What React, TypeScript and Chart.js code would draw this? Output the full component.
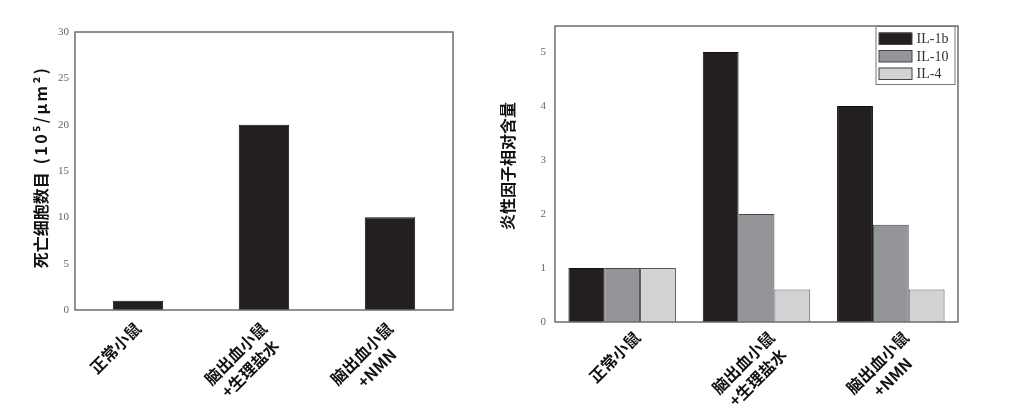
import React, { useEffect, useRef } from "react";
import { Chart, registerables } from "chart.js";

Chart.register(...registerables);

const leftCategories: string[][] = [["正常小鼠"], ["脑出血小鼠", "+生理盐水 "], ["脑出血小鼠", "+NMN　"]];
const deadCells: number[] = [1, 20, 10];
const leftTicks: number[] = [0, 5, 10, 15, 20, 25, 30];

const rightCategories: string[][] = [["正常小鼠"], ["脑出血小鼠", "+生理盐水 "], ["脑出血小鼠", "+NMN　"]];
const il1b: number[] = [1, 5, 4];
const il10: number[] = [1, 2, 1.8];
const il4: number[] = [1, 0.6, 0.6];
const rightTicks: number[] = [0, 1, 2, 3, 4, 5];

const CJK = "'Noto Sans CJK SC', 'Noto Sans', sans-serif";
const SERIF = "'Liberation Serif', 'DejaVu Serif', serif";

const frame = {
  id: "frame",
  afterDraw(chart: any) {
    const { ctx, chartArea } = chart;
    ctx.save();
    ctx.strokeStyle = "#6d6d6d";
    ctx.lineWidth = 1.5;
    ctx.strokeRect(chartArea.left, chartArea.top, chartArea.right - chartArea.left, chartArea.bottom - chartArea.top);
    ctx.restore();
  },
};

// vertical axis title drawn in parts (so the Latin part can be letter-spaced)
const yTitle = {
  id: "yTitle",
  afterDraw(chart: any, _args: any, opts: any) {
    const { ctx, chartArea } = chart;
    const parts: { text: string; size: number; spacing: number; gap?: number }[] = opts.parts || [];
    ctx.save();
    ctx.fillStyle = "#111";
    ctx.textBaseline = "middle";
    ctx.textAlign = "left";
    let total = 0;
    const widths: number[] = [];
    parts.forEach((p) => {
      ctx.font = `bold ${p.size}px ${CJK}`;
      (ctx as any).letterSpacing = `${p.spacing}px`;
      const w = ctx.measureText(p.text).width;
      widths.push(w);
      total += w + (p.gap || 0);
    });
    const cy = (chartArea.top + chartArea.bottom) / 2 + (opts.dy || 0);
    ctx.translate(opts.x, cy);
    ctx.rotate(-Math.PI / 2);
    let x = -total / 2;
    parts.forEach((p, i) => {
      ctx.font = `bold ${p.size}px ${CJK}`;
      (ctx as any).letterSpacing = `${p.spacing}px`;
      ctx.fillText(p.text, x, 0);
      x += widths[i] + (p.gap || 0);
    });
    ctx.restore();
  },
};

const boxLegend = {
  id: "boxLegend",
  afterDraw(chart: any) {
    const { ctx, chartArea } = chart;
    const ds = chart.data.datasets;
    const w = 79;
    const x0 = chartArea.right - w - 3.5;
    const y0 = chartArea.top;
    const rowH = 17.5;
    const h = 58;
    ctx.save();
    ctx.fillStyle = "#ffffff";
    ctx.fillRect(x0, y0, w, h);
    ctx.strokeStyle = "#777";
    ctx.lineWidth = 1;
    ctx.strokeRect(x0 + 0.5, y0 + 0.5, w, h);
    ds.forEach((d: any, i: number) => {
      const cy = y0 + 12.5 + i * rowH;
      ctx.fillStyle = d.backgroundColor;
      ctx.fillRect(x0 + 3.5, cy - 6, 33, 12);
      ctx.strokeStyle = "#444";
      ctx.strokeRect(x0 + 3.5, cy - 5.5, 33, 11.5);
      ctx.fillStyle = "#333";
      ctx.font = `14px ${SERIF}`;
      ctx.textBaseline = "middle";
      ctx.textAlign = "left";
      ctx.fillText(d.label, x0 + 41, cy + 1);
    });
    ctx.restore();
  },
};

function useChart(ref: React.RefObject<HTMLCanvasElement | null>, makeConfig: () => any) {
  useEffect(() => {
    if (!ref.current) return;
    const chart = new Chart(ref.current, makeConfig());
    return () => chart.destroy();
  }, []);
}

function xAxis(height: number, labelOffset: number, padding: number) {
  return {
    grid: { display: false, drawTicks: false },
    border: { display: false },
    afterFit: (s: any) => {
      s.height = height;
    },
    ticks: {
      color: "#111",
      maxRotation: 45,
      minRotation: 45,
      padding,
      labelOffset,
      font: { family: CJK, size: 16, weight: "bold", lineHeight: 1.3 },
    },
  };
}

export default function App() {
  const leftRef = useRef<HTMLCanvasElement>(null);
  const rightRef = useRef<HTMLCanvasElement>(null);

  useChart(leftRef, () => ({
    type: "bar",
    data: {
      labels: leftCategories,
      datasets: [
        {
          label: "死亡细胞数目",
          data: deadCells,
          backgroundColor: "#231f20",
          borderColor: "#111",
          borderWidth: 1,
          barPercentage: 0.4,
          categoryPercentage: 1,
        },
      ],
    },
    options: {
      animation: false,
      responsive: false,
      layout: { padding: { left: 0, right: 17, top: 32, bottom: 0 } },
      plugins: {
        legend: { display: false },
        tooltip: { enabled: false },
        yTitle: {
          x: 41,
          dy: -4,
          parts: [
            { text: "死亡细胞数目", size: 16, spacing: 0, gap: 8 },
            { text: "(10⁵/μm²)", size: 16, spacing: 2.5 },
          ],
        },
      },
      scales: {
        x: xAxis(99, 0, 8),
        y: {
          min: 0,
          max: 30,
          afterFit: (s: any) => {
            s.width = 75;
          },
          afterBuildTicks: (s: any) => {
            s.ticks = leftTicks.map((v) => ({ value: v }));
          },
          grid: { display: false, drawTicks: false },
          border: { display: false },
          ticks: { color: "#666", padding: 6, font: { family: SERIF, size: 11 } },
        },
      },
    },
    plugins: [frame, yTitle],
  }));

  useChart(rightRef, () => ({
    type: "bar",
    data: {
      labels: rightCategories,
      datasets: [
        { label: "IL-1b", data: il1b, backgroundColor: "#231f20", borderColor: "#111", borderWidth: 1 },
        { label: "IL-10", data: il10, backgroundColor: "#939598", borderColor: "#444", borderWidth: 1 },
        { label: "IL-4", data: il4, backgroundColor: "#d1d3d4", borderColor: "#555", borderWidth: 1 },
      ].map((d) => ({ ...d, barPercentage: 1, categoryPercentage: 0.8 })),
    },
    options: {
      animation: false,
      responsive: false,
      layout: { padding: { left: 0, right: 66, top: 26, bottom: 0 } },
      plugins: {
        legend: { display: false },
        tooltip: { enabled: false },
        yTitle: {
          x: 38,
          dy: -8,
          parts: [{ text: "炎性因子相对含量", size: 16, spacing: 0 }],
        },
      },
      scales: {
        x: xAxis(87, 15, 5),
        y: {
          min: 0,
          max: 5.48,
          afterFit: (s: any) => {
            s.width = 85;
          },
          afterBuildTicks: (s: any) => {
            s.ticks = rightTicks.map((v) => ({ value: v }));
          },
          grid: { display: false, drawTicks: false },
          border: { display: false },
          ticks: { color: "#666", padding: 9, font: { family: SERIF, size: 11 } },
        },
      },
    },
    plugins: [frame, boxLegend, yTitle],
  }));

  return (
    <div style={{ position: "fixed", left: 0, top: 0, width: 1024, height: 409, background: "#fff" }}>
      <canvas ref={leftRef} width={470} height={409} style={{ position: "absolute", left: 0, top: 0 }} />
      <canvas ref={rightRef} width={554} height={409} style={{ position: "absolute", left: 470, top: 0 }} />
    </div>
  );
}
